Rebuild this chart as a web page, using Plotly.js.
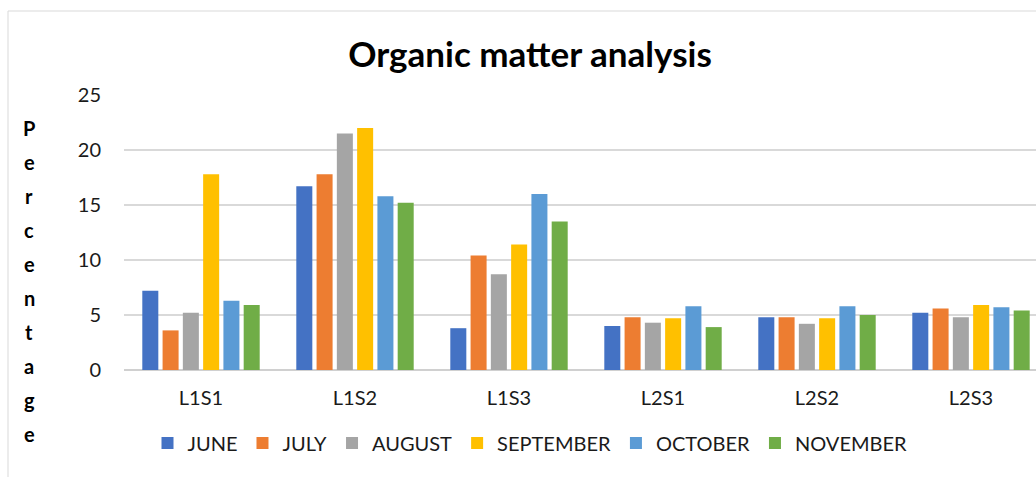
<!DOCTYPE html>
<html>
<head>
<meta charset="utf-8">
<script src="https://cdn.plot.ly/plotly-3.0.1.min.js"></script>
<style>
html, body { margin: 0; padding: 0; overflow: hidden; background: #ffffff; }
#chart { width: 1060px; height: 477px; }
</style>
</head>
<body>
<div id="chart"></div>
<script>
// ---- data ----
const categories = ["L1S1", "L1S2", "L1S3", "L2S1", "L2S2", "L2S3"];
const months = ["JUNE", "JULY", "AUGUST", "SEPTEMBER", "OCTOBER", "NOVEMBER"];
const june      = [7.2, 16.7, 3.8, 4.0, 4.8, 5.2];
const july      = [3.6, 17.8, 10.4, 4.8, 4.8, 5.6];
const august    = [5.2, 21.5, 8.7, 4.3, 4.2, 4.8];
const september = [17.8, 22.0, 11.4, 4.7, 4.7, 5.9];
const october   = [6.3, 15.8, 16.0, 5.8, 5.8, 5.7];
const november  = [5.9, 15.2, 13.5, 3.9, 5.0, 5.4];
const yTicks = [0, 5, 10, 15, 20, 25];
const chartTitle = "Organic matter analysis";
const yTitle = "Percentage";

const seriesValues = [june, july, august, september, october, november];
const colors = ["#4472C4", "#ED7D31", "#A5A5A5", "#FFC000", "#5B9BD5", "#70AD47"];

const FONT = "Lato, 'Open Sans', sans-serif";

const traces = months.map((m, i) => ({
  type: "bar",
  name: m,
  x: categories,
  y: seriesValues[i],
  marker: { color: colors[i], line: { width: 0 } },
  hoverinfo: "x+y+name"
}));

// layout geometry
const W = 1060, H = 477;
const M = { l: 124, r: 12, t: 95, b: 107 };
const PW = W - M.l - M.r, PH = H - M.t - M.b;
const px2x = px => (px - M.l) / PW;
const px2y = py => (M.t + PH - py) / PH;

// vertical, letter-by-letter axis title
const letters = yTitle.split("");
const annotations = letters.map((ch, i) => ({
  text: "<b>" + ch + "</b>",
  xref: "paper", yref: "paper",
  x: px2x(29), y: px2y(128 + i * 34.0),
  xanchor: "center", yanchor: "middle",
  showarrow: false,
  font: { family: FONT, size: 20, color: "#000000" }
}));

const layout = {
  width: W, height: H,
  margin: M,
  paper_bgcolor: "#ffffff",
  plot_bgcolor: "#ffffff",
  barmode: "group",
  bargap: 0.21,
  bargroupgap: 0.21,
  title: {
    text: "<b>" + chartTitle + "</b>",
    font: { family: FONT, size: 35, color: "#000000" },
    x: 0.5, xref: "container", xanchor: "center",
    y: 1 - 55 / H, yref: "container", yanchor: "middle"
  },
  xaxis: {
    type: "category",
    showgrid: false,
    showline: false,
    zeroline: false,
    ticks: "",
    tickfont: { family: FONT, size: 20, color: "#1a1a1a" },
    ticklabelstandoff: 14,
    fixedrange: true
  },
  yaxis: {
    range: [0, 25],
    tickvals: yTicks,
    ticktext: yTicks.map(String),
    showgrid: true,
    gridcolor: "#d9d9d9",
    gridwidth: 1.3,
    zeroline: true,
    zerolinecolor: "#d0d0d0",
    zerolinewidth: 1.5,
    showline: false,
    ticks: "",
    tickfont: { family: FONT, size: 20, color: "#1a1a1a" },
    ticklabelstandoff: 22,
    fixedrange: true
  },
  legend: {
    orientation: "h",
    x: 0.5, xref: "container", xanchor: "center",
    y: (H - 443) / H, yref: "container", yanchor: "middle",
    font: { family: FONT, size: 20, color: "#1a1a1a" },
    traceorder: "normal",
    itemclick: false, itemdoubleclick: false
  },
  annotations: annotations,
  shapes: [{
    type: "rect", xref: "paper", yref: "paper",
    x0: px2x(8), x1: px2x(1058), y0: px2y(490), y1: px2y(11),
    line: { color: "#d9d9d9", width: 1 },
    fillcolor: "rgba(0,0,0,0)",
    layer: "below"
  }],
  showlegend: true
};

Plotly.newPlot("chart", traces, layout, { displayModeBar: false, staticPlot: true });
</script>
</body>
</html>
